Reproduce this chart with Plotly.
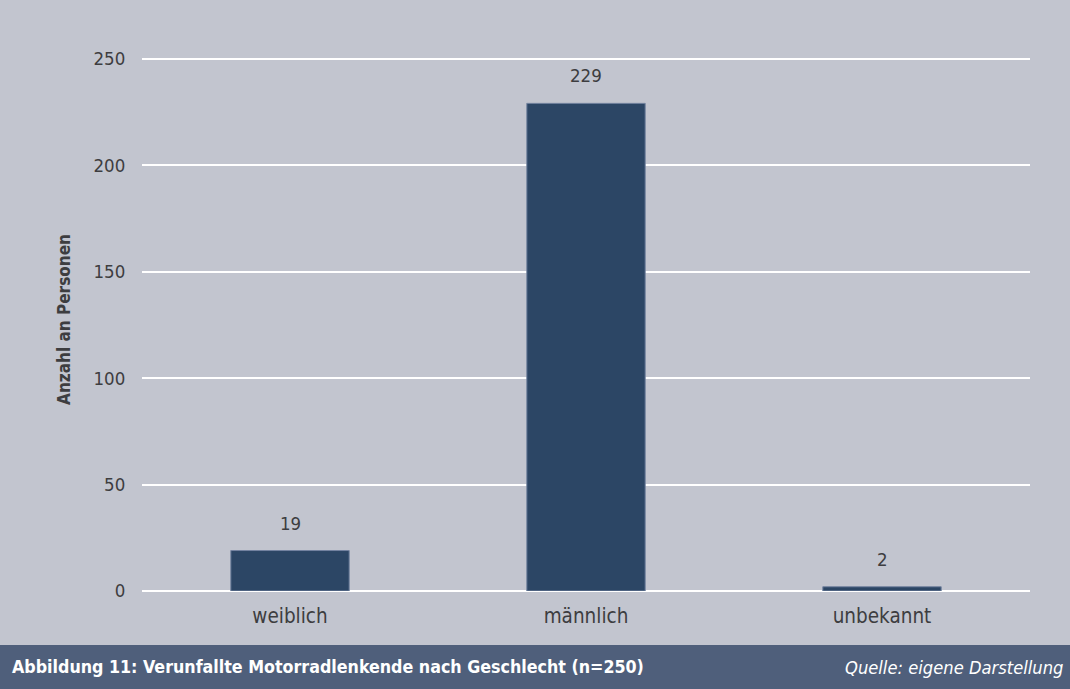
import plotly.graph_objects as go

categories = ["weiblich", "männlich", "unbekannt"]
counts = [19, 229, 2]
y_ticks = [0, 50, 100, 150, 200, 250]

FONT = "DejaVu Sans Condensed, Liberation Sans Narrow, Arial Narrow, sans-serif"
BG = "#c2c5cf"
BAR = "#2c4665"
TXT = "#3d3d40"

fig = go.Figure()
fig.add_trace(go.Bar(
    x=categories, y=counts, width=0.4,
    marker=dict(color=BAR, line=dict(color="#7383a0", width=1)),
    hoverinfo="skip",
))

# value labels above each bar
for c, v in zip(categories, counts):
    fig.add_annotation(x=c, y=v, text=str(v), showarrow=False,
                       yanchor="bottom", yshift=15,
                       font=dict(family=FONT, size=18.5, color=TXT))

plot_top, plot_bottom = 48, 591
plot_h = plot_bottom - plot_top

# caption bar at the bottom of the figure
fig.add_shape(type="rect", xref="paper", yref="paper",
              x0=-142 / 888, x1=(1070 - 142) / 888,
              y0=-(689 - plot_bottom) / plot_h, y1=-(645 - plot_bottom) / plot_h,
              fillcolor="#4f5f7b", line=dict(width=0), layer="below")
fig.add_annotation(xref="paper", yref="paper",
                   x=-132 / 888, y=-(667 - plot_bottom) / plot_h,
                   xanchor="left", yanchor="middle", showarrow=False,
                   text="<b>Abbildung 11: Verunfallte Motorradlenkende nach Geschlecht (n=250)</b>",
                   font=dict(family=FONT, size=17.7, color="white"))
fig.add_annotation(xref="paper", yref="paper",
                   x=(1066 - 142) / 888, y=-(667 - plot_bottom) / plot_h,
                   xanchor="right", yanchor="middle", showarrow=False,
                   text="<i>Quelle: eigene Darstellung</i>",
                   font=dict(family=FONT, size=18.2, color="white"))

fig.update_layout(
    width=1070, height=689,
    margin=dict(l=142, r=40, t=plot_top, b=689 - plot_bottom),
    paper_bgcolor=BG, plot_bgcolor=BG,
    showlegend=False, bargap=0.6,
    font=dict(family=FONT, size=20, color=TXT),
    xaxis=dict(showgrid=False, showline=False, zeroline=False,
               ticks="outside", ticklen=6, tickcolor="rgba(0,0,0,0)",
               tickfont=dict(family=FONT, size=20.5, color=TXT)),
    yaxis=dict(range=[0, 255], tickvals=y_ticks, showgrid=True,
               gridcolor="white", gridwidth=1.5,
               zeroline=True, zerolinecolor="white", zerolinewidth=2,
               showline=False, ticks="outside", ticklen=12,
               tickcolor="rgba(0,0,0,0)",
               tickfont=dict(family=FONT, size=18.5, color=TXT),
               title=dict(text="<b>Anzahl an Personen</b>", standoff=18,
                          font=dict(family=FONT, size=17, color=TXT))),
)

fig.write_html("out.html")
